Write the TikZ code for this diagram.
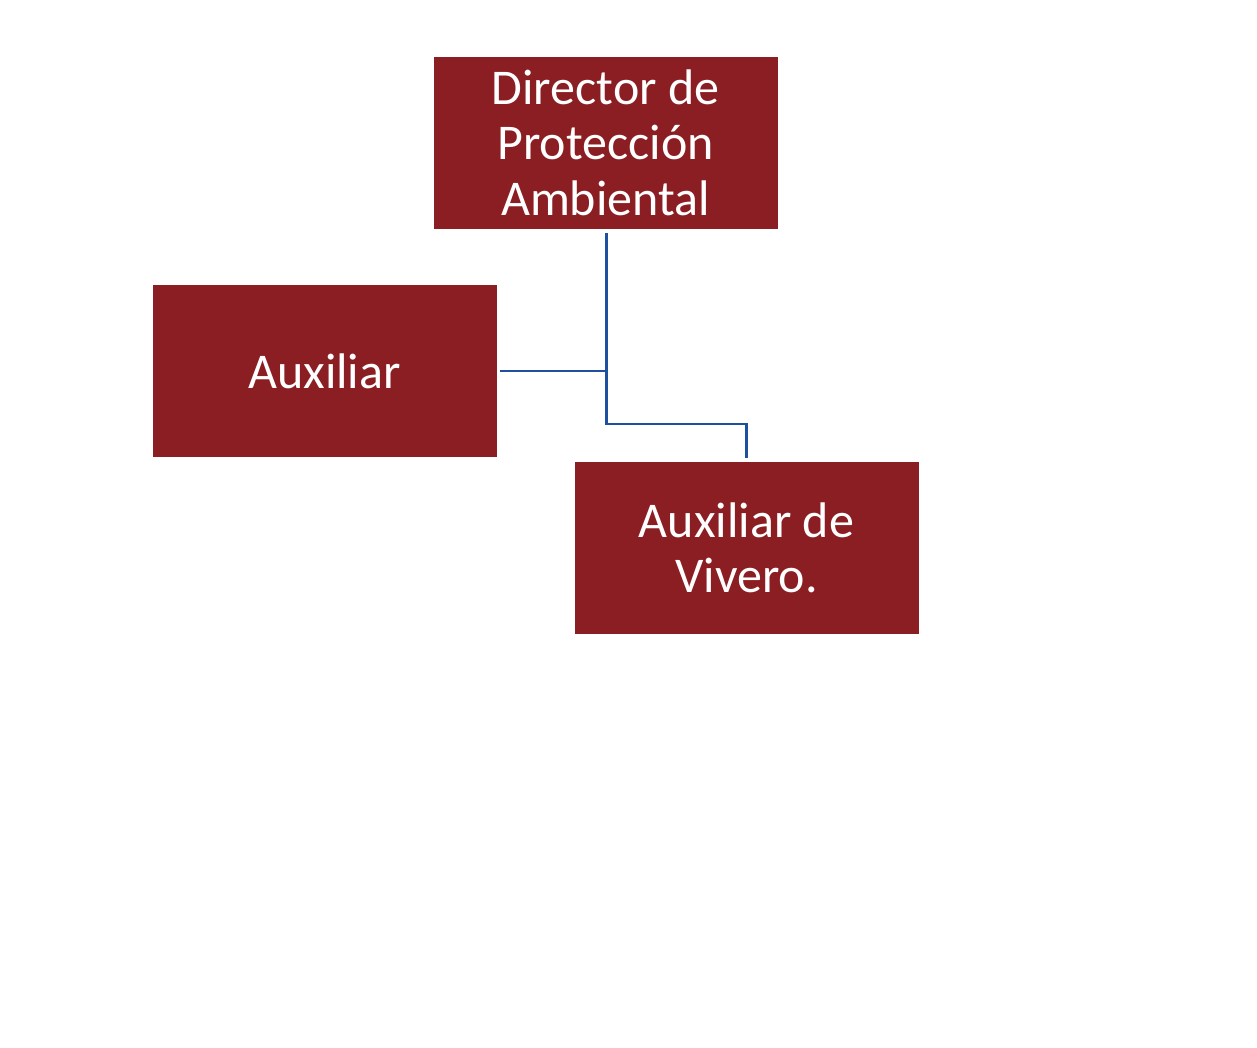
\documentclass[tikz,border=0pt]{standalone}
\usepackage{fontspec}
\setmainfont{Carlito}
\definecolor{boxred}{RGB}{139,30,34}
\definecolor{lineblue}{RGB}{31,79,160}
\tikzset{
  cargo/.style={draw=none,fill=boxred,text=white,align=center,
    minimum width=258pt,minimum height=129pt,inner sep=0pt,
    font=\fontsize{37.5}{41.5}\selectfont},
  enlace/.style={draw=lineblue,line width=2pt}
}
\begin{document}
\begin{tikzpicture}[x=0.75pt,y=0.75pt,yscale=-1,xscale=1]
\useasboundingbox (0,0) rectangle (1257,1047);
\node[cargo] (dir) at (605.5,142.5) {Director de\\Protección\\Ambiental};
\node[cargo] (aux) at (324.5,371) {Auxiliar};
\node[cargo] (viv) at (746.5,548) {Auxiliar de\\Vivero.};
\coordinate (codo) at (606.5,424);
\draw[enlace,shorten <=3pt,shorten >=2.5pt] (dir.south -| codo) -- (codo) -| (viv.north);
\draw[enlace,shorten <=2.5pt] (aux.east) -- (aux.east -| codo);
\end{tikzpicture}
\end{document}
